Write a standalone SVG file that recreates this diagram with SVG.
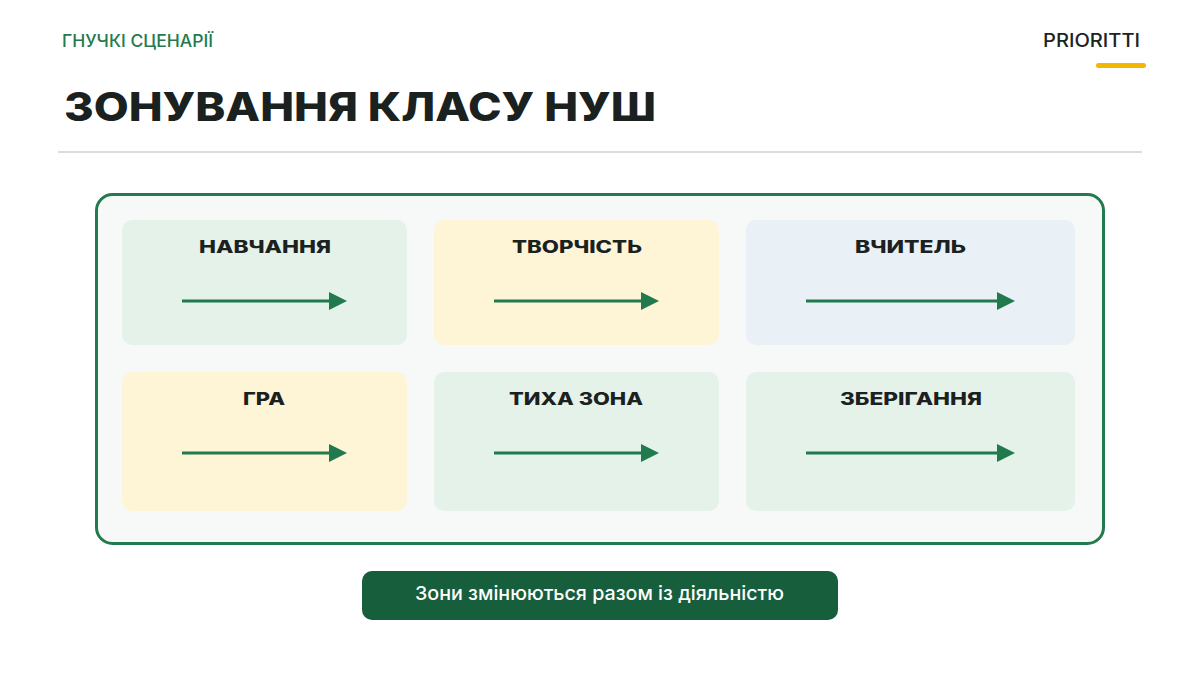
<svg xmlns="http://www.w3.org/2000/svg" width="1200" height="675" viewBox="0 0 1200 675">
<style>
.sub{font-family:Inter,"Liberation Sans",sans-serif;font-size:17px;font-weight:500;fill:#247a4e}
.brand{font-family:Inter,"Liberation Sans",sans-serif;font-size:18px;font-weight:500;fill:#1d2320}
.title{font-family:Inter,"Liberation Sans",sans-serif;font-size:40px;font-weight:800;fill:#1a211e}
.lbl{font-family:Inter,"Liberation Sans",sans-serif;font-size:17px;font-weight:800;fill:#1a211e}
.g{fill:#e5f2ea}.y{fill:#fdf5d6}.b{fill:#e9f0f6}
.arr{stroke:#217a4e;stroke-width:3;fill:none}
.btn{font-family:Inter,"Liberation Sans",sans-serif;font-size:19px;font-weight:500;fill:#ffffff}
</style>
<defs>
<marker id="ah" markerWidth="6" markerHeight="6" refX="1" refY="3" orient="auto" markerUnits="strokeWidth" viewBox="0 0 6 6">
<path d="M0,0 L6,3 L0,6 Z" fill="#217a4e"/>
</marker>
</defs>
<rect width="1200" height="675" fill="#ffffff"/>
<g id="header">
<text class="sub" x="62" y="47" textLength="151" lengthAdjust="spacingAndGlyphs">ГНУЧКІ СЦЕНАРІЇ</text>
<text class="brand" x="1043" y="47" textLength="97" lengthAdjust="spacingAndGlyphs">PRIORITTI</text>
<rect x="1096" y="63" width="50" height="5" rx="2.5" fill="#f2b705"/>
<text class="title" x="64" y="121" textLength="592" lengthAdjust="spacingAndGlyphs">ЗОНУВАННЯ КЛАСУ НУШ</text>
<line x1="58" y1="152" x2="1142" y2="152" stroke="#dddddd" stroke-width="2"/>
</g>
<g id="frame">
<rect x="96.5" y="194.5" width="1007" height="349" rx="16" fill="#f7f9f8" stroke="#247a4e" stroke-width="3"/>
</g>
<g id="node-navchannia">
<rect class="g" x="122" y="220" width="285" height="125" rx="10"/>
<text class="lbl" x="199" y="253" textLength="132" lengthAdjust="spacingAndGlyphs">НАВЧАННЯ</text>
</g>
<g id="node-tvorchist">
<rect class="y" x="434" y="220" width="285" height="125" rx="10"/>
<text class="lbl" x="512" y="253" textLength="130" lengthAdjust="spacingAndGlyphs">ТВОРЧІСТЬ</text>
</g>
<g id="node-vchytel">
<rect class="b" x="746" y="220" width="329" height="125" rx="10"/>
<text class="lbl" x="855" y="253" textLength="111" lengthAdjust="spacingAndGlyphs">ВЧИТЕЛЬ</text>
</g>
<g id="node-hra">
<rect class="y" x="122" y="372" width="285" height="139" rx="10"/>
<text class="lbl" x="243" y="405" textLength="42" lengthAdjust="spacingAndGlyphs">ГРА</text>
</g>
<g id="node-tykha">
<rect class="g" x="434" y="372" width="285" height="139" rx="10"/>
<text class="lbl" x="509" y="405" textLength="134" lengthAdjust="spacingAndGlyphs">ТИХА ЗОНА</text>
</g>
<g id="node-zberihannia">
<rect class="g" x="746" y="372" width="329" height="139" rx="10"/>
<text class="lbl" x="840" y="405" textLength="142" lengthAdjust="spacingAndGlyphs">ЗБЕРІГАННЯ</text>
</g>
<g id="connectors">
<line class="arr" x1="182" y1="301" x2="332" y2="301" marker-end="url(#ah)"/>
<line class="arr" x1="494" y1="301" x2="644" y2="301" marker-end="url(#ah)"/>
<line class="arr" x1="806" y1="301" x2="1000" y2="301" marker-end="url(#ah)"/>
<line class="arr" x1="182" y1="453" x2="332" y2="453" marker-end="url(#ah)"/>
<line class="arr" x1="494" y1="453" x2="644" y2="453" marker-end="url(#ah)"/>
<line class="arr" x1="806" y1="453" x2="1000" y2="453" marker-end="url(#ah)"/>
</g>
<g id="footer">
<rect x="362" y="571" width="476" height="49" rx="10" fill="#165e3c"/>
<text class="btn" x="415" y="600" textLength="369" lengthAdjust="spacingAndGlyphs">Зони змінюються разом із діяльністю</text>
</g>
</svg>
